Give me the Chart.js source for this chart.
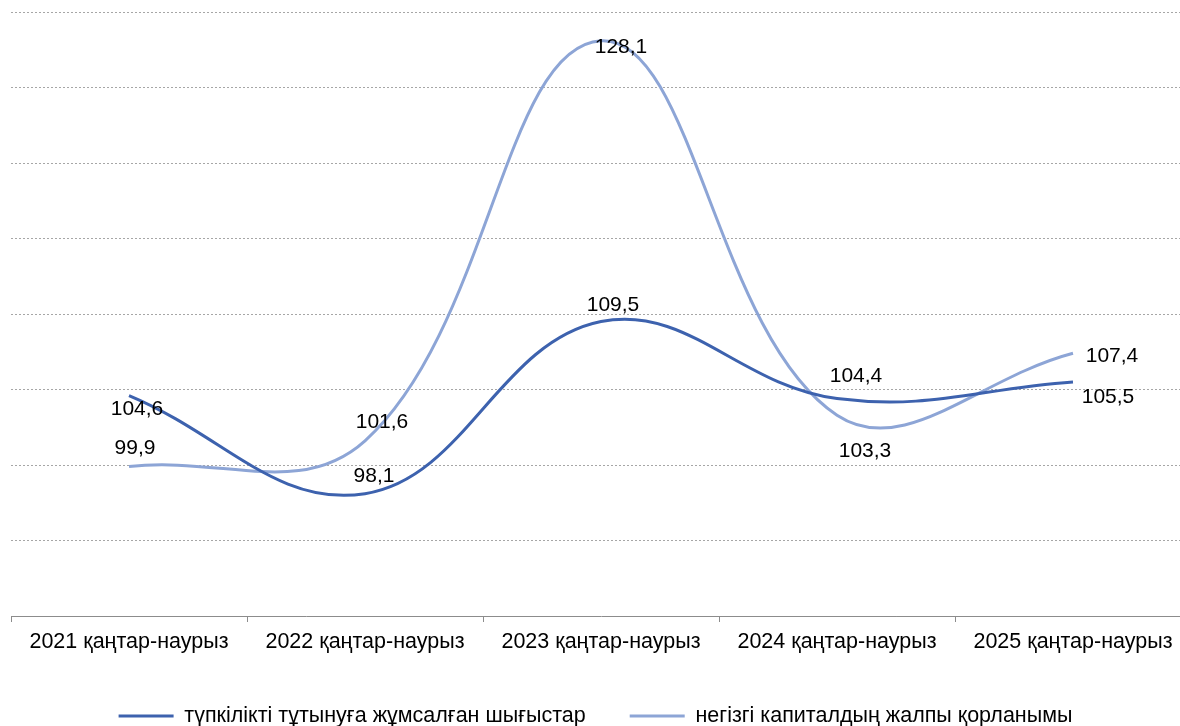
<!DOCTYPE html>
<html>
<head>
<meta charset="utf-8">
<script src="https://cdn.jsdelivr.net/npm/chart.js@4"></script>
<style>
  html, body { margin: 0; padding: 0; background: #fff; overflow: hidden; }
  #wrap { width: 1192px; height: 726px; position: relative; }
</style>
</head>
<body>
<div id="wrap"><canvas id="chart"></canvas></div>
<script>
// data
const categories = ["2021 қаңтар-наурыз", "2022 қаңтар-наурыз", "2023 қаңтар-наурыз", "2024 қаңтар-наурыз", "2025 қаңтар-наурыз"];
const consumption = [104.6, 98.1, 109.5, 104.4, 105.5];
const capital = [99.9, 101.6, 128.1, 103.3, 107.4];
const seriesNames = ["түпкілікті тұтынуға жұмсалған шығыстар", "негізгі капиталдың жалпы қорланымы"];

// label offsets from the point (px), per series
const labelOffsets = [
  [[8, 14], [9, -17], [12, -16], [19, -22], [35, 15]],
  [[6, -18], [17, -19], [20, 7], [28, 36], [39, 3]]
];

const FONT = "'Liberation Sans', Arial, sans-serif";

const valueLabels = {
  id: 'valueLabels',
  afterDatasetsDraw(chart) {
    const ctx = chart.ctx;
    ctx.save();
    ctx.font = "21px " + FONT;
    ctx.fillStyle = "#000";
    ctx.textAlign = "center";
    ctx.textBaseline = "middle";
    chart.data.datasets.forEach(function(ds, i) {
      chart.getDatasetMeta(i).data.forEach(function(pt, j) {
        let off = labelOffsets[i][j];
        ctx.fillText(ds.data[j].toFixed(1).replace('.', ','), pt.x + off[0], pt.y + off[1]);
      });
    });
    ctx.restore();
  }
};

new Chart(document.getElementById("chart"), {
  type: 'line',
  data: {
    labels: categories,
    datasets: [{
      label: seriesNames[0],
      data: consumption,
      borderColor: "#3D62AE",
      backgroundColor: "#3D62AE",
      borderWidth: 3,
      pointRadius: 0,
      tension: 0.4,
      fill: false
    }, {
      label: seriesNames[1],
      data: capital,
      borderColor: "#8DA5D6",
      backgroundColor: "#8DA5D6",
      borderWidth: 3,
      pointRadius: 0,
      tension: 0.4,
      fill: false
    }]
  },
  options: {
    responsive: true,
    maintainAspectRatio: false,
    animation: false,
    layout: { padding: { left: 0, right: 1, top: 12, bottom: -10.75 } },
    scales: {
      x: {
        offset: true,
        grid: { offset: true, drawOnChartArea: false, color: "#8c8c8c", tickLength: 6 },
        border: { color: "#8c8c8c" },
        ticks: { color: "#000", font: { family: FONT, size: 21.5 }, padding: 7, maxRotation: 0 },
        afterFit: function(scale) { scale.height = 45.25; }
      },
      y: {
        min: 90,
        max: 130,
        ticks: { display: false, stepSize: 5 },
        grid: { color: "#a6a6a6", drawTicks: false },
        border: { display: false, dash: [2, 2] },
        afterFit: function(scale) { scale.width = 11; }
      }
    },
    plugins: {
      tooltip: { enabled: false },
      legend: {
        position: 'bottom',
        labels: {
          color: "#000",
          font: { family: FONT, size: 21.5 },
          boxWidth: 55,
          boxHeight: 3,
          padding: 44,
          generateLabels: function(chart) {
            let items = Chart.defaults.plugins.legend.labels.generateLabels(chart);
            items.forEach(function(it) { it.lineWidth = 0; });
            return items;
          }
        }
      }
    }
  },
  plugins: [valueLabels]
});
</script>
</body>
</html>
